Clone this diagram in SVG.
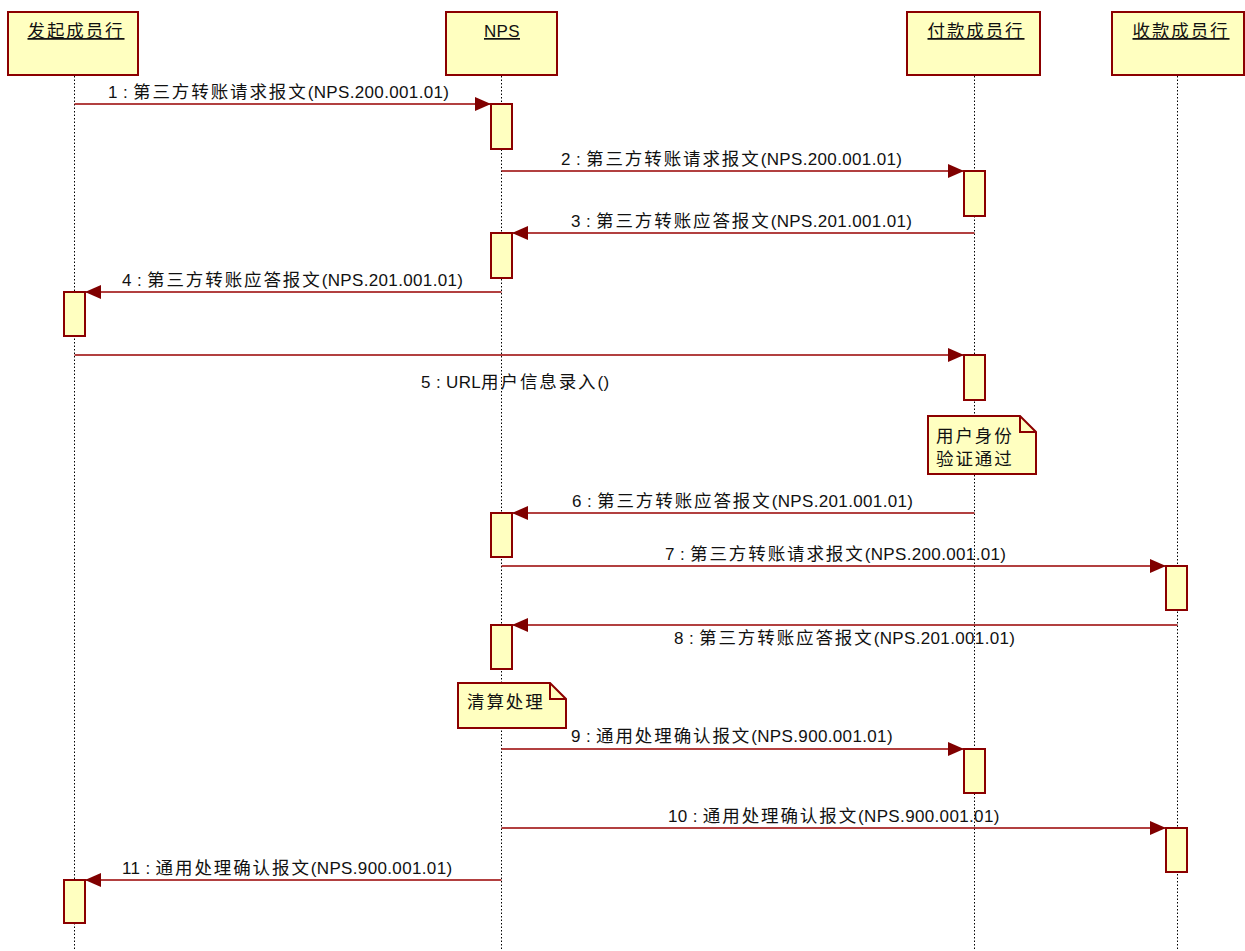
<svg xmlns="http://www.w3.org/2000/svg" width="1245" height="951" viewBox="0 0 1245 951">
<style>
.bg{fill:#ffffff}
.box{fill:#ffffc0;stroke:#8b0000;stroke-width:2}
.act{fill:#ffffc0;stroke:#8b0000;stroke-width:2}
.life{stroke:#000;stroke-width:1;stroke-dasharray:1.5,2;fill:none}
.msg{stroke:#990000;stroke-width:1.5;fill:none}
.t{font-family:"Liberation Sans","Noto Sans CJK SC",sans-serif;font-size:17px;fill:#111;letter-spacing:0.35px}
.c{font-family:"Noto Sans CJK SC",sans-serif;font-size:17.5px;letter-spacing:1.9px}
.title{text-decoration:underline}
</style>
<defs>
<marker id="ah" markerUnits="userSpaceOnUse" markerWidth="17" markerHeight="15" refX="16" refY="7" orient="auto">
<path d="M0,0 L16,7 L0,14 z" fill="#800000"/>
</marker>
</defs>
<rect class="bg" x="0" y="0" width="1245" height="951"/>

<g id="lifelines">
<line class="life" x1="74.5" y1="76" x2="74.5" y2="951"/>
<line class="life" x1="501.5" y1="76" x2="501.5" y2="951"/>
<line class="life" x1="974.5" y1="76" x2="974.5" y2="951"/>
<line class="life" x1="1177.5" y1="76" x2="1177.5" y2="951"/>
</g>

<g id="p1"><rect class="box" x="8" y="12" width="130" height="63"/><text class="t title" x="76" y="37" text-anchor="middle"><tspan class="c">发起成员行</tspan></text></g>
<g id="p2"><rect class="box" x="446" y="12" width="111" height="63"/><text class="t title" x="502" y="37" text-anchor="middle">NPS</text></g>
<g id="p3"><rect class="box" x="907" y="12" width="133" height="63"/><text class="t title" x="976" y="37" text-anchor="middle"><tspan class="c">付款成员行</tspan></text></g>
<g id="p4"><rect class="box" x="1112" y="12" width="132" height="63"/><text class="t title" x="1181" y="37" text-anchor="middle"><tspan class="c">收款成员行</tspan></text></g>

<g id="activations">
<rect class="act" x="491" y="104" width="21" height="45"/>
<rect class="act" x="964" y="171" width="21" height="45"/>
<rect class="act" x="491" y="233" width="21" height="45"/>
<rect class="act" x="64" y="292" width="21" height="44"/>
<rect class="act" x="964" y="355" width="21" height="45"/>
<rect class="act" x="491" y="513" width="21" height="44"/>
<rect class="act" x="1166" y="566" width="21" height="44"/>
<rect class="act" x="491" y="625" width="21" height="44"/>
<rect class="act" x="964" y="749" width="21" height="44"/>
<rect class="act" x="1166" y="828" width="21" height="44"/>
<rect class="act" x="64" y="880" width="21" height="43"/>
</g>

<g id="note1">
<path class="box" d="M928,416 L1020,416 L1036,432 L1036,474 L928,474 Z"/>
<path d="M1020,416 L1020,432 L1036,432" fill="none" stroke="#8b0000" stroke-width="2"/>
<text class="t" x="936" y="442"><tspan class="c">用户身份</tspan></text>
<text class="t" x="936" y="465"><tspan class="c">验证通过</tspan></text>
</g>
<g id="note2">
<path class="box" d="M458,683 L550,683 L566,699 L566,728 L458,728 Z"/>
<path d="M550,683 L550,699 L566,699" fill="none" stroke="#8b0000" stroke-width="2"/>
<text class="t" x="467" y="708"><tspan class="c">清算处理</tspan></text>
</g>

<g id="connectors">
<line class="msg" x1="74.5" y1="104" x2="491" y2="104" marker-end="url(#ah)"/>
<line class="msg" x1="501.5" y1="171" x2="964" y2="171" marker-end="url(#ah)"/>
<line class="msg" x1="974.5" y1="233" x2="512" y2="233" marker-end="url(#ah)"/>
<line class="msg" x1="501.5" y1="292" x2="85" y2="292" marker-end="url(#ah)"/>
<line class="msg" x1="74.5" y1="355" x2="964" y2="355" marker-end="url(#ah)"/>
<line class="msg" x1="974.5" y1="513" x2="512" y2="513" marker-end="url(#ah)"/>
<line class="msg" x1="501.5" y1="566" x2="1166" y2="566" marker-end="url(#ah)"/>
<line class="msg" x1="1177.5" y1="625" x2="512" y2="625" marker-end="url(#ah)"/>
<line class="msg" x1="501.5" y1="749" x2="964" y2="749" marker-end="url(#ah)"/>
<line class="msg" x1="501.5" y1="828" x2="1166" y2="828" marker-end="url(#ah)"/>
<line class="msg" x1="501.5" y1="880" x2="85" y2="880" marker-end="url(#ah)"/>
</g>

<g id="labels">
<text class="t" x="108" y="98">1 : <tspan class="c">第三方转账请求报文</tspan>(NPS.200.001.01)</text>
<text class="t" x="561" y="165">2 : <tspan class="c">第三方转账请求报文</tspan>(NPS.200.001.01)</text>
<text class="t" x="571" y="227">3 : <tspan class="c">第三方转账应答报文</tspan>(NPS.201.001.01)</text>
<text class="t" x="122" y="286">4 : <tspan class="c">第三方转账应答报文</tspan>(NPS.201.001.01)</text>
<text class="t" x="421" y="388">5 : URL<tspan class="c">用户信息录入</tspan>()</text>
<text class="t" x="572" y="507">6 : <tspan class="c">第三方转账应答报文</tspan>(NPS.201.001.01)</text>
<text class="t" x="665" y="560">7 : <tspan class="c">第三方转账请求报文</tspan>(NPS.200.001.01)</text>
<text class="t" x="674" y="644">8 : <tspan class="c">第三方转账应答报文</tspan>(NPS.201.001.01)</text>
<text class="t" x="571" y="742">9 : <tspan class="c">通用处理确认报文</tspan>(NPS.900.001.01)</text>
<text class="t" x="668" y="822">10 : <tspan class="c">通用处理确认报文</tspan>(NPS.900.001.01)</text>
<text class="t" x="122" y="874">11 : <tspan class="c">通用处理确认报文</tspan>(NPS.900.001.01)</text>
</g>
</svg>
